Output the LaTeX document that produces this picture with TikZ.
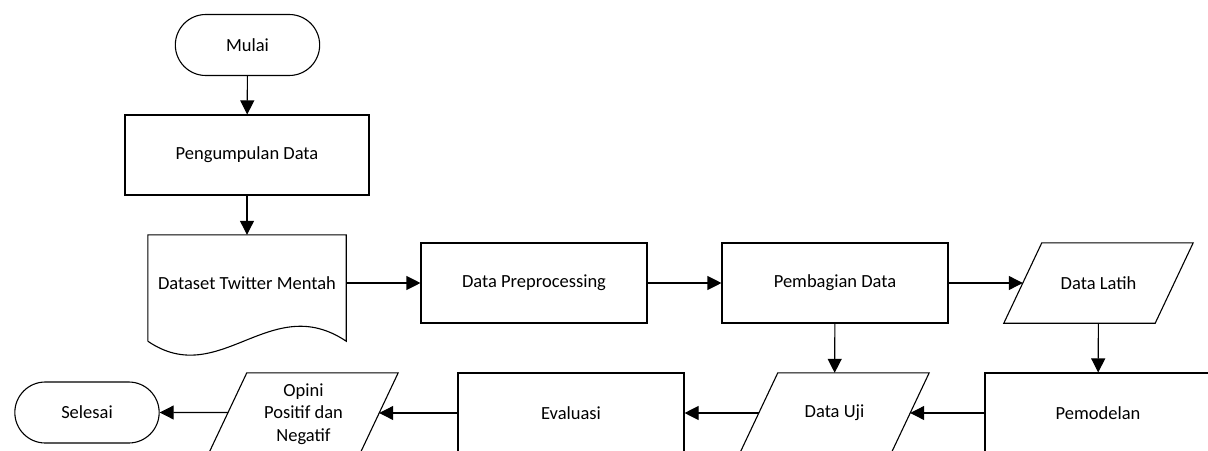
\documentclass[tikz,border=0pt]{standalone}
\usepackage{fontspec}
\setmainfont{Carlito}
\usepackage{tikz}
\usetikzlibrary{arrows.meta,calc,shapes.misc}

\tikzset{
    every node/.style={font=\fontsize{18.5}{22.5}\selectfont},
    box/.style={draw, line width=1.1pt, minimum width=226pt, minimum height=80pt},
    term/.style={draw, line width=1.1pt, rounded rectangle, minimum width=151pt, minimum height=61pt},
    io/.style={minimum width=151pt, minimum height=80pt, inner sep=0pt, align=center},
    arr/.style={line width=1.1pt, -{Triangle[length=14pt,width=14pt]}}
}

\begin{document}
\begin{tikzpicture}[x=1pt,y=-1pt]
                    \useasboundingbox (0,0) rectangle (1208,450);
                    \node[term] (start) at (247.5,45) {Mulai};
                    \node[box, minimum width=244pt] (collect) at (247,155) {Pengumpulan Data};
                    \node[minimum width=198pt, minimum height=96pt, inner sep=0pt] (raw) at (247,283) {Dataset Twitter Mentah};
                    \draw[line width=1.1pt] ($(raw.south west)+(0,10)$) -- (raw.north west) -- (raw.north east) -- ($(raw.south east)+(0,10)$)
                        .. controls +(-76,-51) and +(72,49) .. ($(raw.south west)+(0,10)$);
                    \node[box] (prep) at (534,283) {Data Preprocessing};
                    \node[box] (split) at (835,283) {Pembagian Data};
                    \node[io] (train) at (1098.5,283) {Data Latih};
                    \node[box] (model) at (1098,413) {Pemodelan};
                    \node[io] (test) at (834.5,413) {Data Uji};
                    \node[box] (eval) at (571,413) {Evaluasi};
                    \node[io] (opini) at (303.5,414) {Opini\\Positif dan\\Negatif};
                    \node[term] (finish) at (87,412.5) {Selesai};
                    \foreach \n in {train,test}
                        \draw[line width=1.1pt] ($(\n.north west)+(19,0)$) -- ($(\n.north east)+(19,0)$)
                            -- ($(\n.south east)+(-19,0)$) -- ($(\n.south west)+(-19,0)$) -- cycle;
                    \draw[line width=1.1pt] ($(opini.north west)+(19,-1)$) -- ($(opini.north east)+(19,-1)$)
                        -- ($(opini.south east)+(-19,-1)$) -- ($(opini.south west)+(-19,-1)$) -- cycle;
                    \draw[arr] (start) -- (collect);
                    \draw[arr] (collect) -- (raw);
                    \draw[arr] (raw) -- (prep);
                    \draw[arr] (prep) -- (split);
                    \draw[arr] (split) -- (train);
                    \draw[arr] (train) -- (model);
                    \draw[arr] (split) -- (test);
                    \draw[arr] (model) -- (test);
                    \draw[arr] (test) -- (eval);
                    \draw[arr] (eval) -- (opini.east |- eval.west);
                    \draw[arr] (opini.west |- finish.east) -- (finish);
                \end{tikzpicture}
\end{document}
